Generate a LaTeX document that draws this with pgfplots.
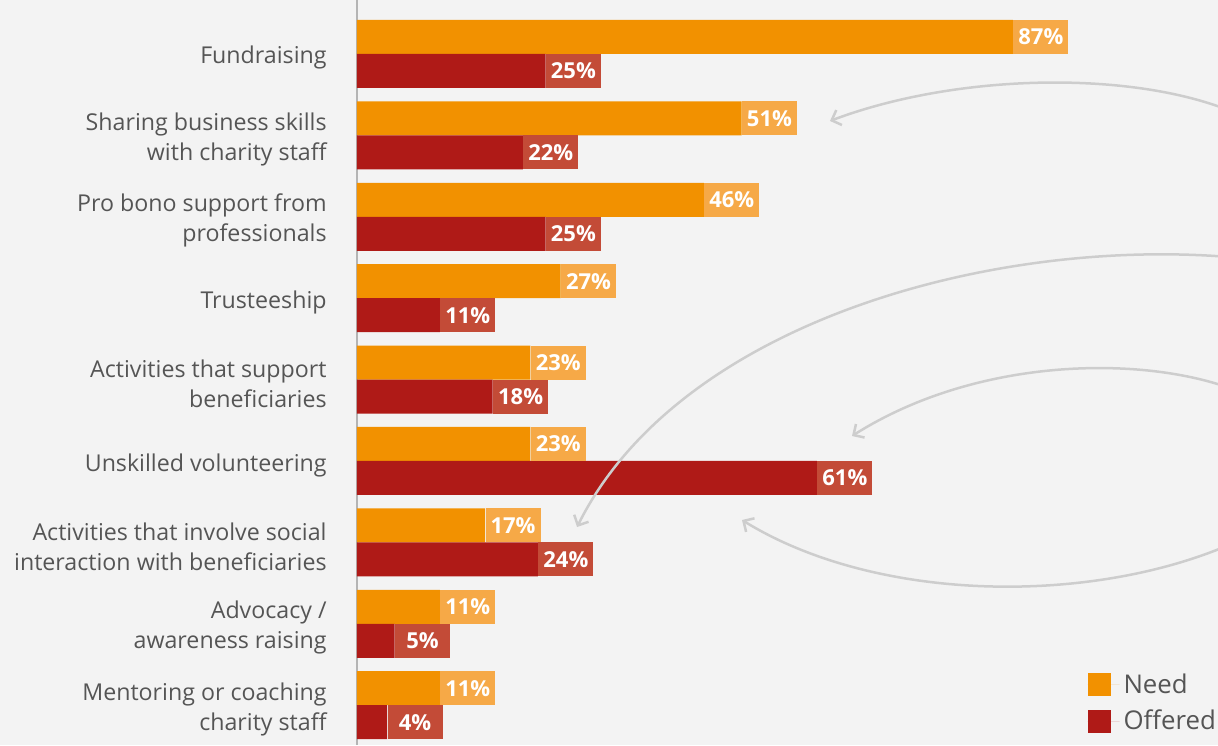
\documentclass[border=0pt]{standalone}
\usepackage{pgfplots}
\pgfplotsset{compat=1.18}
\usepackage{fontspec}
\setmainfont{Open Sans}
\usetikzlibrary{backgrounds,arrows.meta}
\definecolor{needc}{HTML}{F29100}
\definecolor{needl}{HTML}{F6A947}
\definecolor{offc}{HTML}{AF1A17}
\definecolor{offl}{HTML}{C34B37}
\definecolor{bgc}{HTML}{F3F3F3}
\definecolor{txt}{HTML}{555555}
\definecolor{arr}{HTML}{CDCDCD}
\definecolor{axc}{HTML}{B4B4B4}
\begin{document}
\begin{tikzpicture}
\begin{axis}[
  scale only axis, width=430.5pt, height=372.5pt,
  xmin=0, xmax=114.19, ymin=-0.489, ymax=8.663,
  xbar, bar width=17pt,
  axis x line=none, axis y line*=left,
  y axis line style={draw=axc, line width=0.75pt},
  xtick=\empty,
  ytick={0,...,8}, major tick length=0pt,
  yticklabels={{Mentoring or coaching\\charity staff},{Advocacy /\\awareness raising},{Activities that involve social\\interaction with beneficiaries},{Unskilled volunteering},{Activities that support\\beneficiaries},{Trusteeship},{Pro bono support from\\professionals},{Sharing business skills\\with charity staff},{Fundraising}},
  yticklabel style={align=right, font=\fontsize{11.6}{15}\selectfont, text=txt, inner sep=0pt, xshift=-15pt, yshift=-2pt},
  /pgf/number format/assume math mode=true,
  nodes near coords={\pgfmathprintnumber{\pgfplotspointmeta}\%},
  every node near coord/.append style={anchor=west, inner sep=0pt, minimum width=27.5pt, minimum height=17pt, text=white, font=\fontsize{11}{13}\selectfont\bfseries},
  legend style={at={(0.848,0.1020)}, anchor=north west, draw=none, fill=none, inner sep=0pt, row sep=3pt, font=\fontsize{12.9}{15}\selectfont, text=txt},
  legend cell align=left,
]
\addplot[fill=needc, draw=none, bar shift=8.5pt, every node near coord/.append style={fill=needl},
  legend image code/.code={\fill[needc] (0pt,-5.75pt) rectangle (11.5pt,5.75pt); \path (0pt,0pt) -- (16pt,0pt);}]
  coordinates {(87,8) (51,7) (46,6) (27,5) (23,4) (23,3) (17,2) (11,1) (11,0)};
\addlegendentry{Need}
\addplot[fill=offc, draw=none, bar shift=-8.5pt, every node near coord/.append style={fill=offl},
  legend image code/.code={\fill[offc] (0pt,-5.75pt) rectangle (11.5pt,5.75pt); \path (0pt,0pt) -- (16pt,0pt);}]
  coordinates {(25,8) (22,7) (25,6) (11,5) (18,4) (61,3) (24,2) (5,1) (4,0)};
\addlegendentry{Offered}
\draw[arr, line width=1.25pt, -{Straight Barb[length=4pt,width=8pt]}]
  (axis cs:117.1,7.251) .. controls (axis cs:103.85,7.803) and (axis cs:79.97,7.779) .. (axis cs:62.73,7.177);
\draw[arr, line width=1.25pt, -{Straight Barb[length=4pt,width=8pt]}]
  (axis cs:117.1,5.494) .. controls (axis cs:85.28,5.776) and (axis cs:42.84,4.732) .. (axis cs:29.18,2.189);
\draw[arr, line width=1.25pt, -{Straight Barb[length=4pt,width=8pt]}]
  (axis cs:117.1,3.848) .. controls (axis cs:105.17,4.302) and (axis cs:82.63,4.302) .. (axis cs:65.65,3.307);
\draw[arr, line width=1.25pt, -{Straight Barb[length=4pt,width=8pt]}]
  (axis cs:117.1,2.029) .. controls (axis cs:98.54,1.231) and (axis cs:69.36,1.231) .. (axis cs:51.06,2.275);
\coordinate (axbl) at (rel axis cs:0,0);
\coordinate (axtr) at (rel axis cs:1,1);
\end{axis}
\begin{scope}[on background layer]
\fill[bgc] (axbl) ++(-178.5pt,0) rectangle (axtr);
\end{scope}
\pgfresetboundingbox
\path (axbl) ++(-178.5pt,0) rectangle (axtr);
\end{tikzpicture}
\end{document}
